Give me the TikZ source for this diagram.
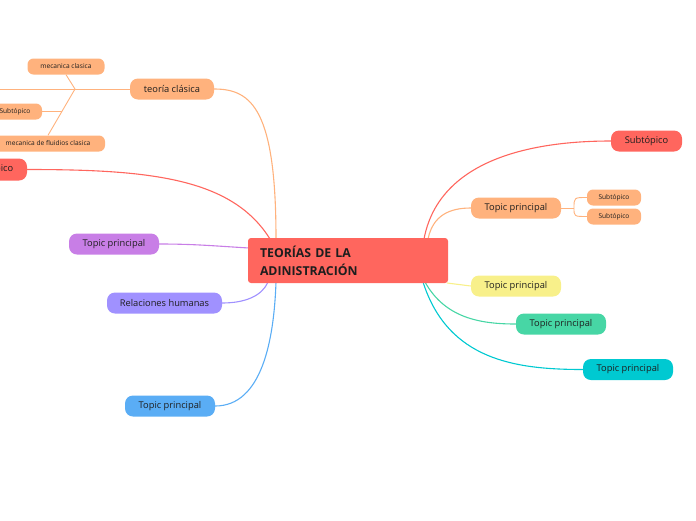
\documentclass[tikz,border=0pt]{standalone}
\usepackage{fontspec}
\setmainfont{Open Sans}
\usetikzlibrary{backgrounds}
\definecolor{cred}{RGB}{255,102,94}
\definecolor{corange}{RGB}{255,178,125}
\definecolor{cpurple}{RGB}{200,126,230}
\definecolor{clav}{RGB}{160,145,255}
\definecolor{cblue}{RGB}{90,173,245}
\definecolor{cyellow}{RGB}{248,240,138}
\definecolor{cgreen}{RGB}{71,214,165}
\definecolor{ccyan}{RGB}{0,201,209}
\definecolor{ctext}{RGB}{30,30,30}
\tikzset{
  topic/.style={rounded corners=8pt, minimum height=21pt, inner sep=0pt, text=ctext,
    font=\fontsize{9.3}{10}\selectfont, draw=none},
  small/.style={rounded corners=6pt, minimum height=16pt, inner sep=0pt, text=ctext,
    font=\fontsize{6.6}{7}\selectfont, fill=corange},
  central/.style={fill=cred, rounded corners=3pt, minimum width=200pt, minimum height=45pt,
    text width=176pt, inner sep=0pt, align=left, text=ctext,
    font=\bfseries\fontsize{12.3}{18}\selectfont},
  conn/.style={line width=1.1pt},
  thin/.style={line width=0.9pt, corange},
}
\begin{document}
\begin{tikzpicture}[x=1pt,y=-1pt]
\useasboundingbox (0,0) rectangle (696,520);
\clip (0,0) rectangle (696,520);

% central
\node[central] (c) at (348,260.5) {TEORÍAS DE LA\\ADINISTRACIÓN};

% anchors on central
\coordinate (cTL1) at (276,239);
\coordinate (cTL2) at (270,239);
\coordinate (cL1) at (249,248);
\coordinate (cBL1) at (268,282);
\coordinate (cBL2) at (276,282);
\coordinate (cTR1) at (424,239);
\coordinate (cTR2) at (428,239);
\coordinate (cR1) at (447,283);
\coordinate (cBR1) at (425,282);
\coordinate (cBR2) at (423,282);

% left nodes
\node[topic, fill=corange, minimum width=84pt] (tc) at (172,89) {teoría clásica};
\node[topic, fill=cred, minimum width=71pt, minimum height=22pt] (ls) at (-8.5,169.5) {Subtópico};
\node[topic, fill=cpurple, minimum width=90pt] (tp1) at (114,244) {Topic principal};
\node[topic, fill=clav, minimum width=115pt] (rh) at (164.5,303) {Relaciones humanas};
\node[topic, fill=cblue, minimum width=90pt] (tp2) at (170,406) {Topic principal};

\node[small, minimum width=77pt] (mc) at (66,66.5) {mecanica clasica};
\node[small, minimum width=54pt] (s1) at (15,111.5) {Subtópico};
\node[small, minimum width=114pt] (mf) at (48,143.5) {mecanica de fluidios clasica};

% right nodes
\node[topic, fill=cred, minimum width=71pt] (rs) at (646.5,141) {Subtópico};
\node[topic, fill=corange, minimum width=90pt] (tp3) at (516,208) {Topic principal};
\node[small, minimum width=54pt] (s2) at (614,197.5) {Subtópico};
\node[small, minimum width=54pt] (s3) at (614,216.5) {Subtópico};
\node[topic, fill=cyellow, minimum width=90pt] (tp4) at (516,286) {Topic principal};
\node[topic, fill=cgreen, minimum width=90pt] (tp5) at (561,324) {Topic principal};
\node[topic, fill=ccyan, minimum width=90pt] (tp6) at (628,369.5) {Topic principal};

\begin{scope}[on background layer]
% left connectors
\draw[conn, corange] (cTL1) .. controls (276,110) and (252,89) .. (tc.east);
\draw[conn, cred] (cTL2) .. controls (232,178) and (150,169.5) .. (ls.east);
\draw[conn, cpurple] (cL1) .. controls (215,246) and (195,244) .. (tp1.east);
\draw[conn, clav] (cBL1) .. controls (262,296) and (245,303) .. (rh.east);
\draw[conn, cblue] (cBL2) .. controls (274,340) and (262,406) .. (tp2.east);

% classic subtree
\coordinate (hub) at (75,89);
\coordinate (lft) at (0,89);
\coordinate (br1) at (61.5,111.5);
\draw[thin] (tc.west) -- (lft);
\draw[thin] (hub) -- (mc.south);
\draw[thin] (hub) -- (mf.north);
\draw[thin] (br1) -- (s1.east);

% right connectors
\draw[conn, cred] (cTR1) .. controls (438,165) and (520,141) .. (rs.west);
\draw[conn, corange] (cTR2) .. controls (433,215) and (450,208) .. (tp3.west);
\coordinate (sb) at (574,208);
\draw[thin] (tp3.east) -- (sb);
\draw[thin] (sb) .. controls (574,197.5) .. (s2.west);
\draw[thin] (sb) .. controls (574,216.5) .. (s3.west);
\draw[conn, cyellow] (cR1) -- (tp4.west);
\draw[conn, cgreen] (cBR1) .. controls (445,318) and (480,324) .. (tp5.west);
\draw[conn, ccyan] (cBR2) .. controls (448,360) and (515,369.5) .. (tp6.west);
\end{scope}
\end{tikzpicture}
\end{document}
